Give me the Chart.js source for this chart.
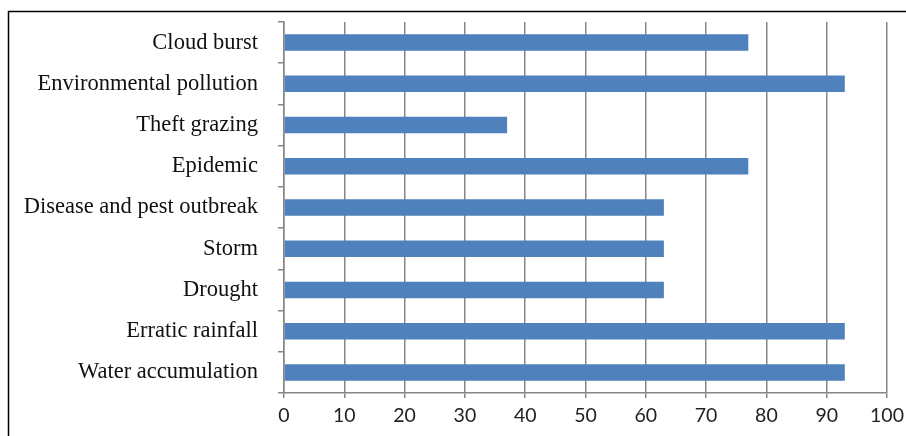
<!DOCTYPE html>
<html>
<head>
<meta charset="utf-8">
<script src="https://cdn.jsdelivr.net/npm/chart.js@4"></script>
<style>
html,body{margin:0;padding:0;background:#fff;}
#wrap{position:relative;width:906px;height:436px;}
</style>
</head>
<body>
<div id="wrap"><canvas id="c" width="906" height="436"></canvas></div>
<script>
const categories = [
  "Cloud burst",
  "Environmental pollution",
  "Theft grazing",
  "Epidemic",
  "Disease and pest outbreak",
  "Storm",
  "Drought",
  "Erratic rainfall",
  "Water accumulation"
];
const values = [77, 93, 37, 77, 63, 63, 63, 93, 93];
const xTicks = [0, 10, 20, 30, 40, 50, 60, 70, 80, 90, 100];

const framePlugin = {
  id: 'frame',
  afterDraw(chart) {
    const ctx = chart.ctx;
    ctx.save();
    ctx.strokeStyle = '#000';
    ctx.lineWidth = 1.5;
    ctx.beginPath();
    ctx.moveTo(8.5, chart.height + 5);
    ctx.lineTo(8.5, 11.5);
    ctx.lineTo(chart.width + 5, 11.5);
    ctx.stroke();
    ctx.restore();
  }
};

new Chart(document.getElementById('c'), {
  type: 'bar',
  data: {
    labels: categories,
    datasets: [{
      data: values,
      backgroundColor: '#4F81BD',
      borderWidth: 0,
      barPercentage: 0.4,
      categoryPercentage: 1.0
    }]
  },
  plugins: [framePlugin],
  options: {
    indexAxis: 'y',
    responsive: false,
    animation: false,
    devicePixelRatio: 1,
    layout: { padding: { left: 0, right: 19, top: 22, bottom: 0 } },
    plugins: { legend: { display: false }, tooltip: { enabled: false } },
    scales: {
      x: {
        min: 0, max: 100,
        afterBuildTicks(scale) { scale.ticks = xTicks.map(v => ({ value: v })); },
        afterFit(scale) { scale.height = 43; scale.paddingLeft = 0; scale.paddingRight = 0; },
        grid: { color: '#868686', lineWidth: 1.5, tickLength: 5, drawTicks: true },
        border: { color: '#868686', width: 1.5 },
        ticks: {
          color: '#222',
          font: { family: 'Lato', size: 19.5 },
          padding: 6,
          maxRotation: 0,
          autoSkip: false
        }
      },
      y: {
        afterFit(scale) { scale.width = 284; scale.paddingTop = 0; scale.paddingBottom = 0; },
        grid: { offset: true, drawOnChartArea: false, drawTicks: true, tickLength: 6, color: '#868686', lineWidth: 1.5 },
        border: { color: '#868686', width: 1.5 },
        ticks: {
          color: '#111',
          font: { family: 'Liberation Serif', size: 22.5 },
          padding: 20,
          autoSkip: false
        }
      }
    }
  }
});
</script>
</body>
</html>
